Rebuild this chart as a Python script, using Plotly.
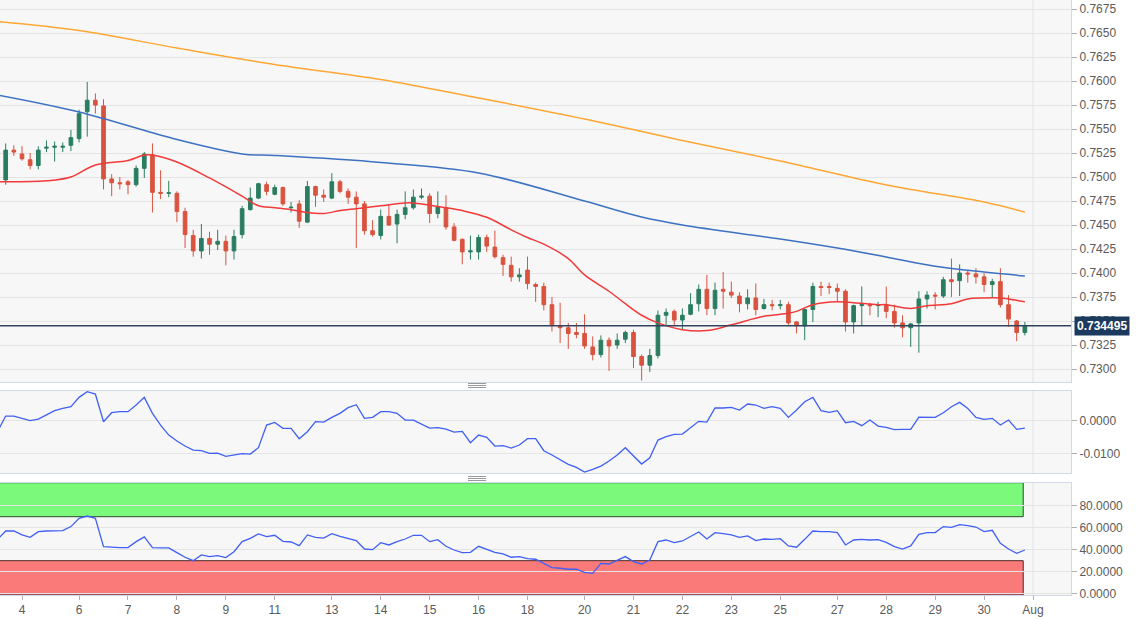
import plotly.graph_objects as go
from plotly.subplots import make_subplots

# ---------------- calendar (4-hour bars per trading day) ----------------
days = ["2", "4", "5", "6", "7", "8", "9", "11", "12", "13", "14", "15", "16",
        "18", "19", "20", "21", "22", "23", "25", "26", "27", "28", "29", "30", "Aug"]
bars_per_day = [3, 1, 6, 6, 6, 6, 6, 1, 6, 6, 6, 6, 6,
                1, 6, 6, 6, 6, 6, 1, 6, 6, 6, 6, 6, 0]
shown_labels = ["4", "6", "7", "8", "9", "11", "13", "14", "15", "16", "18",
                "20", "21", "22", "23", "25", "27", "28", "29", "30", "Aug"]

# ---------------- price data (AUD/USD 4H) ----------------
opens = [0.7470, 0.7497, 0.7528, 0.7524, 0.7518, 0.7512, 0.7530, 0.7531, 0.7531, 0.7533,
         0.7540, 0.7568, 0.7580, 0.7574, 0.7498, 0.7494, 0.7495, 0.7492, 0.7509, 0.7523,
         0.7484, 0.7483, 0.7483, 0.7464, 0.7439, 0.7423, 0.7436, 0.7430, 0.7433, 0.7423,
         0.7440, 0.7466, 0.7478, 0.7492, 0.7482, 0.7489, 0.7468, 0.7472, 0.7453, 0.7490,
         0.7481, 0.7478, 0.7495, 0.7485, 0.7479, 0.7472, 0.7444, 0.7439, 0.7459, 0.7451,
         0.7461, 0.7468, 0.7479, 0.7480, 0.7462, 0.7468, 0.7448, 0.7435, 0.7422, 0.7422,
         0.7437, 0.7427, 0.7416, 0.7408, 0.7396, 0.7403, 0.7388, 0.7386, 0.7367, 0.7345,
         0.7343, 0.7338, 0.7337, 0.7323, 0.7315, 0.7330, 0.7325, 0.7331, 0.7338, 0.7313,
         0.7304, 0.7314, 0.7356, 0.7360, 0.7351, 0.7357, 0.7368, 0.7383, 0.7363, 0.7383,
         0.7380, 0.7376, 0.7368, 0.7374, 0.7363, 0.7367, 0.7366, 0.7367, 0.7349, 0.7345,
         0.7362, 0.7386, 0.7386, 0.7384, 0.7381, 0.7349, 0.7366, 0.7367, 0.7366, 0.7367,
         0.7360, 0.7348, 0.7343, 0.7348, 0.7373, 0.7377, 0.7376, 0.7393, 0.7392, 0.7400,
         0.7399, 0.7396, 0.7388, 0.7391, 0.7367, 0.7350, 0.7338]
highs = [0.7518, 0.7535, 0.7533, 0.7532, 0.7525, 0.7532, 0.7538, 0.7537, 0.7536, 0.7549,
         0.7570, 0.7599, 0.7587, 0.7581, 0.7503, 0.7500, 0.7497, 0.7512, 0.7526, 0.7535,
         0.7507, 0.7496, 0.7485, 0.7468, 0.7445, 0.7451, 0.7443, 0.7445, 0.7439, 0.7445,
         0.7470, 0.7489, 0.7494, 0.7495, 0.7492, 0.7490, 0.7474, 0.7476, 0.7496, 0.7491,
         0.7487, 0.7504, 0.7497, 0.7488, 0.7485, 0.7475, 0.7455, 0.7466, 0.7472, 0.7466,
         0.7485, 0.7487, 0.7488, 0.7483, 0.7485, 0.7481, 0.7452, 0.7436, 0.7439, 0.7440,
         0.7440, 0.7444, 0.7419, 0.7417, 0.7405, 0.7417, 0.7390, 0.7390, 0.7375, 0.7369,
         0.7348, 0.7348, 0.7357, 0.7334, 0.7335, 0.7333, 0.7337, 0.7340, 0.7341, 0.7315,
         0.7321, 0.7361, 0.7363, 0.7362, 0.7363, 0.7379, 0.7388, 0.7398, 0.7390, 0.7401,
         0.7391, 0.7380, 0.7383, 0.7389, 0.7373, 0.7372, 0.7372, 0.7370, 0.7350, 0.7363,
         0.7390, 0.7391, 0.7390, 0.7389, 0.7383, 0.7367, 0.7386, 0.7369, 0.7370, 0.7386,
         0.7367, 0.7356, 0.7348, 0.7381, 0.7381, 0.7380, 0.7396, 0.7415, 0.7409, 0.7403,
         0.7405, 0.7400, 0.7394, 0.7405, 0.7377, 0.7351, 0.7349]
lows = [0.7464, 0.7492, 0.7522, 0.7517, 0.7508, 0.7508, 0.7526, 0.7516, 0.7526, 0.7527,
        0.7536, 0.7542, 0.7566, 0.7487, 0.7480, 0.7487, 0.7482, 0.7490, 0.7499, 0.7463,
        0.7477, 0.7479, 0.7453, 0.7426, 0.7417, 0.7415, 0.7419, 0.7424, 0.7408, 0.7414,
        0.7436, 0.7465, 0.7477, 0.7481, 0.7481, 0.7470, 0.7463, 0.7447, 0.7452, 0.7469,
        0.7474, 0.7477, 0.7483, 0.7472, 0.7426, 0.7440, 0.7438, 0.7435, 0.7449, 0.7431,
        0.7456, 0.7466, 0.7477, 0.7452, 0.7457, 0.7445, 0.7433, 0.7409, 0.7414, 0.7414,
        0.7422, 0.7415, 0.7397, 0.7391, 0.7391, 0.7383, 0.7370, 0.7361, 0.7339, 0.7327,
        0.7321, 0.7332, 0.7321, 0.7309, 0.7312, 0.7298, 0.7321, 0.7327, 0.7301, 0.7288,
        0.7297, 0.7311, 0.7346, 0.7345, 0.7341, 0.7356, 0.7360, 0.7356, 0.7356, 0.7363,
        0.7374, 0.7359, 0.7362, 0.7356, 0.7362, 0.7361, 0.7362, 0.7346, 0.7337, 0.7330,
        0.7349, 0.7376, 0.7378, 0.7370, 0.7339, 0.7337, 0.7345, 0.7356, 0.7354, 0.7353,
        0.7343, 0.7333, 0.7323, 0.7317, 0.7363, 0.7362, 0.7374, 0.7375, 0.7376, 0.7390,
        0.7389, 0.7380, 0.7374, 0.7364, 0.7344, 0.7329, 0.7335]
closes = [0.7496, 0.7528, 0.7526, 0.7519, 0.7512, 0.7528, 0.7531, 0.7532, 0.7532, 0.7541,
          0.7566, 0.7580, 0.7575, 0.7498, 0.7494, 0.7493, 0.7492, 0.7509, 0.7524, 0.7484,
          0.7483, 0.74835, 0.7464, 0.7440, 0.7423, 0.7436, 0.7430, 0.7433, 0.7423, 0.7438,
          0.7467, 0.7478, 0.7493, 0.7485, 0.7489, 0.7472, 0.74685, 0.7454, 0.7490, 0.7481,
          0.7479, 0.7495, 0.7485, 0.7479, 0.7472, 0.7444, 0.7440, 0.7459, 0.7450, 0.7461,
          0.7468, 0.7479, 0.7480, 0.7462, 0.7469, 0.7448, 0.7434, 0.7422, 0.7423, 0.7437,
          0.7428, 0.7417, 0.7409, 0.7396, 0.7398, 0.7389, 0.7386, 0.7367, 0.7346, 0.7343,
          0.7337, 0.7336, 0.7324, 0.7315, 0.7330, 0.7324, 0.7330, 0.7338, 0.7313, 0.7304,
          0.7314, 0.7356, 0.7359, 0.7351, 0.7356, 0.7367, 0.7383, 0.7363, 0.7382, 0.7381,
          0.7377, 0.7368, 0.7374, 0.7362, 0.7367, 0.7366, 0.7367, 0.7348, 0.7345, 0.7362,
          0.7386, 0.7385, 0.7385, 0.7381, 0.7349, 0.7366, 0.7367, 0.7366, 0.7367, 0.7360,
          0.7348, 0.7343, 0.7347, 0.7373, 0.7377, 0.7376, 0.7393, 0.7391, 0.7400, 0.7399,
          0.7396, 0.7388, 0.7391, 0.7367, 0.7352, 0.7338, 0.734495]
last_price = 0.734495

# moving averages (sampled at bar indices)
ma_fast_idx = [0, 6, 9, 12, 16, 18, 19, 22, 26, 30, 32, 34, 36, 38, 40, 42, 44, 47, 50, 51,
               55, 57, 60, 63, 65, 67, 70, 72, 75, 77, 79, 81, 84, 87, 90, 94, 97, 98, 100,
               103, 105, 108, 109, 112, 114, 117, 119, 121, 123, 124, 126]
ma_fast = [0.7495, 0.7496, 0.7500, 0.75125, 0.75172, 0.75229, 0.75229, 0.75156, 0.7499,
           0.7480, 0.7470, 0.7468, 0.7466, 0.7463, 0.7462, 0.7465, 0.7467, 0.7470, 0.7473,
           0.7473, 0.7468, 0.7465, 0.7458, 0.7445, 0.7437, 0.7430, 0.7415, 0.7398, 0.7381,
           0.7368, 0.7356, 0.7348, 0.7341, 0.7340, 0.7346, 0.7355, 0.7358, 0.7360, 0.7367,
           0.7370, 0.7369, 0.7367, 0.7367, 0.7363, 0.7366, 0.7368, 0.7373, 0.7374, 0.7374,
           0.7373, 0.7370]
ma_mid_idx = [0, 10, 22, 30, 34, 47, 59, 72, 79, 84, 96, 103, 109, 115, 121, 126]
ma_mid = [0.75854, 0.75677, 0.75390, 0.75240, 0.75224, 0.75151, 0.75042, 0.74750, 0.74583,
          0.74500, 0.74354, 0.74260, 0.74167, 0.74070, 0.74010, 0.73969]
ma_slow_idx = [0, 10, 22, 34, 47, 59, 72, 84, 96, 109, 121, 126]
ma_slow = [0.76620, 0.76526, 0.76344, 0.76172, 0.76016, 0.75823, 0.75604, 0.75380,
           0.75167, 0.74917, 0.74740, 0.74635]

# oscillator panel
momentum = [-0.00337, 0.00143, 0.00143, 0.00072, 0.0, 0.00051, 0.00174, 0.00307, 0.00378, 0.00429,
            0.00716, 0.00890, 0.00818, -0.00031, 0.00245, 0.00276, 0.00276, 0.00481, 0.00716, 0.00225,
            -0.00133, -0.00440, -0.00624, -0.00777, -0.00900, -0.00920, -0.01002, -0.00992, -0.01094, -0.01043,
            -0.01012, -0.01022, -0.00828, -0.00133, -0.00051, -0.00235, -0.00235, -0.00552, -0.00337, -0.00031,
            -0.00041, 0.00102, 0.00225, 0.00399, 0.00491, 0.00072, 0.00102, 0.00276, 0.00276, 0.00225,
            0.00020, 0.00020, -0.00112, -0.00225, -0.00215, -0.00256, -0.00348, -0.00327, -0.00675, -0.00440,
            -0.00511, -0.00777, -0.00767, -0.00838, -0.00746, -0.00552, -0.00552, -0.00920, -0.01053, -0.01207,
            -0.01339, -0.01431, -0.01575, -0.01493, -0.01391, -0.01237, -0.01053, -0.00828, -0.01084, -0.01329,
            -0.01135, -0.00593, -0.00491, -0.00419, -0.00409, -0.00204, -0.00020, -0.00041, 0.00389, 0.00389,
            0.00409, 0.00327, 0.00511, 0.00481, 0.00378, 0.00429, 0.00378, 0.00102, 0.00327, 0.00583,
            0.00716, 0.00307, 0.00256, 0.00307, -0.00061, -0.00020, -0.00153, 0.00020, -0.00164, -0.00204,
            -0.00276, -0.00266, -0.00266, 0.00112, 0.00102, 0.00102, 0.00245, 0.00429, 0.00562, 0.00378,
            0.00102, 0.00041, 0.00072, -0.00133, 0.00020, -0.00266, -0.00225]

# RSI panel
rsi = [49.4, 57.0, 57.0, 53.4, 51.2, 56.4, 57.0, 57.3, 57.3, 61.0,
       68.5, 70.6, 68.5, 42.8, 42.2, 41.9, 41.9, 47.3, 51.6, 41.9,
       41.6, 41.6, 37.3, 33.1, 30.0, 35.2, 33.7, 34.6, 32.8, 38.2,
       47.3, 50.3, 54.3, 51.9, 53.1, 47.6, 47.0, 43.7, 53.4, 51.2,
       50.6, 54.6, 52.2, 50.0, 48.2, 40.6, 40.0, 46.4, 44.3, 47.3,
       49.7, 53.1, 53.1, 47.3, 49.1, 43.1, 39.7, 37.3, 37.6, 43.1,
       40.3, 37.6, 36.1, 33.1, 33.7, 31.9, 31.3, 27.6, 23.7, 23.1,
       22.2, 22.2, 19.4, 18.5, 27.6, 27.0, 30.6, 33.7, 29.1, 27.0,
       30.6, 47.3, 48.8, 46.4, 47.9, 51.9, 56.1, 49.7, 55.5, 54.6,
       53.4, 51.2, 52.5, 48.2, 49.7, 49.4, 50.0, 43.4, 42.2, 49.4,
       57.0, 56.4, 56.4, 55.5, 44.3, 48.8, 49.4, 48.8, 49.1, 46.7,
       42.8, 40.6, 43.4, 54.0, 55.5, 55.5, 61.0, 60.3, 62.8, 61.9,
       60.6, 56.4, 57.6, 45.8, 40.6, 36.7, 39.7]
rsi_upper, rsi_lower = 70, 30

# ---------------- derived positions ----------------
bar_idx = list(range(len(closes)))
starts = {}
pos = 0
for d, n in zip(days, bars_per_day):
    starts[d] = pos
    pos += n
tickvals = [starts[d] for d in shown_labels]

W, H = 1137, 619
ML, MR, MT, MB = 0, 66, 0, 24
PH = H - MT - MB  # 595
PW = W - ML - MR  # 1071

def dom(top_px, bot_px):
    return [(PH - bot_px) / PH, (PH - top_px) / PH]

x_range = [0.302, 131.66]

fig = make_subplots(rows=3, cols=1, shared_xaxes=False, vertical_spacing=0.0)

GREEN = "#2a7d60"
RED = "#d9533f"

fig.add_trace(go.Candlestick(
    x=bar_idx, open=opens, high=highs, low=lows, close=closes,
    increasing=dict(line=dict(color=GREEN, width=1), fillcolor=GREEN),
    decreasing=dict(line=dict(color=RED, width=1), fillcolor=RED),
    whiskerwidth=0, showlegend=False, hoverinfo="skip"), row=1, col=1)

fig.add_trace(go.Scatter(x=ma_slow_idx, y=ma_slow, mode="lines", line=dict(color="#ffa733", width=1.5, shape="spline"),
                         showlegend=False, hoverinfo="skip"), row=1, col=1)
fig.add_trace(go.Scatter(x=ma_mid_idx, y=ma_mid, mode="lines", line=dict(color="#3d72c2", width=1.5, shape="spline"),
                         showlegend=False, hoverinfo="skip"), row=1, col=1)
fig.add_trace(go.Scatter(x=ma_fast_idx, y=ma_fast, mode="lines", line=dict(color="#f23a3a", width=1.5, shape="spline"),
                         showlegend=False, hoverinfo="skip"), row=1, col=1)

fig.add_trace(go.Scatter(x=bar_idx, y=momentum, mode="lines", line=dict(color="#3f5ff5", width=1.3),
                         showlegend=False, hoverinfo="skip"), row=2, col=1)

fig.add_trace(go.Scatter(x=bar_idx, y=rsi, mode="lines", line=dict(color="#3f5ff5", width=1.3),
                         showlegend=False, hoverinfo="skip"), row=3, col=1)

# domains
d1 = dom(0, 382)
d2 = dom(390.7, 473.3)
d3 = dom(482.7, 595)

axis_line = "#d3d8e6"
grid = "#e4e4e4"
tickfont = dict(family="Liberation Sans, Arial, sans-serif", size=12, color="#5a5a5a")

common_x = dict(range=x_range, showgrid=False, zeroline=False, showline=True, mirror=True,
                linecolor=axis_line, linewidth=1, tickvals=tickvals, ticktext=shown_labels)
fig.update_layout(
    xaxis=dict(**common_x, domain=[0, 1], showticklabels=False, ticks="", rangeslider=dict(visible=False)),
    xaxis2=dict(**common_x, domain=[0, 1], showticklabels=False, ticks=""),
    xaxis3=dict(**common_x, domain=[0, 1], showticklabels=True, ticks="outside", ticklen=4,
                tickcolor="#b0b0b0", tickfont=tickfont),
)

common_y = dict(side="right", showline=True, mirror=True, linecolor=axis_line, linewidth=1,
                gridcolor=grid, gridwidth=1, zeroline=False, ticks="outside", ticklen=5,
                tickcolor="#b0b0b0", tickfont=tickfont)
fig.update_layout(
    yaxis=dict(**common_y, domain=d1, range=[0.728646, 0.768438], dtick=0.0025, tick0=0.73,
               tickformat=".4f"),
    yaxis2=dict(**common_y, domain=d2, range=[-0.01613, 0.0092], tickvals=[0.0, -0.01],
                ticktext=["0.0000", "-0.0100"]),
    yaxis3=dict(**common_y, domain=d3, range=[-1.2, 100.9], tickvals=[0, 20, 40, 60, 80],
                ticktext=["0.0000", "20.0000", "40.0000", "60.0000", "80.0000"]),
)

shapes = []
last_bar = bar_idx[-1]
# RSI zones
shapes.append(dict(type="rect", xref="x3", yref="y3", x0=x_range[0] - 1, x1=last_bar - 0.2,
                   y0=rsi_upper, y1=100.9, fillcolor="#7af97a", line=dict(color="#2f4a2f", width=1),
                   layer="below"))
shapes.append(dict(type="rect", xref="x3", yref="y3", x0=x_range[0] - 1, x1=last_bar - 0.2,
                   y0=-1.2, y1=rsi_lower, fillcolor="#fa7a7a", line=dict(color="#4a2a2a", width=1),
                   layer="below"))
# month boundary gridline
for xr, yr, yrange in [("x", "y", [0.728646, 0.768438]), ("x2", "y2", [-0.01613, 0.0092]),
                       ("x3", "y3", [-1.2, 100.9])]:
    shapes.append(dict(type="line", xref=xr, yref=yr, x0=starts["Aug"], x1=starts["Aug"],
                       y0=yrange[0], y1=yrange[1], line=dict(color="#dfe2ea", width=1), layer="below"))
# last price line
shapes.append(dict(type="line", xref="paper", yref="y", x0=0, x1=1, y0=last_price, y1=last_price,
                   line=dict(color="#34435f", width=1.5)))
# drag handles
for ypx in [383.5, 385.5, 387.5, 476.5, 478.5, 480.5]:
    yp = (PH - ypx) / PH
    shapes.append(dict(type="line", xref="paper", yref="paper", x0=468 / PW, x1=486 / PW,
                       y0=yp, y1=yp, line=dict(color="#9a9a9a", width=1)))

fig.update_layout(
    shapes=shapes,
    annotations=[dict(xref="paper", yref="y", x=1.0, y=last_price, xanchor="left", yanchor="middle",
                      xshift=3, text="<b>0.734495</b>", showarrow=False, bgcolor="#1c3a5e",
                      font=dict(family="Liberation Sans, Arial, sans-serif", size=12, color="white"),
                      borderpad=2)],
    width=W, height=H, margin=dict(l=ML, r=MR, t=MT, b=MB),
    paper_bgcolor="white", plot_bgcolor="#f7f7f7", boxgap=0.36,
    showlegend=False,
)

fig.write_html("out.html")
